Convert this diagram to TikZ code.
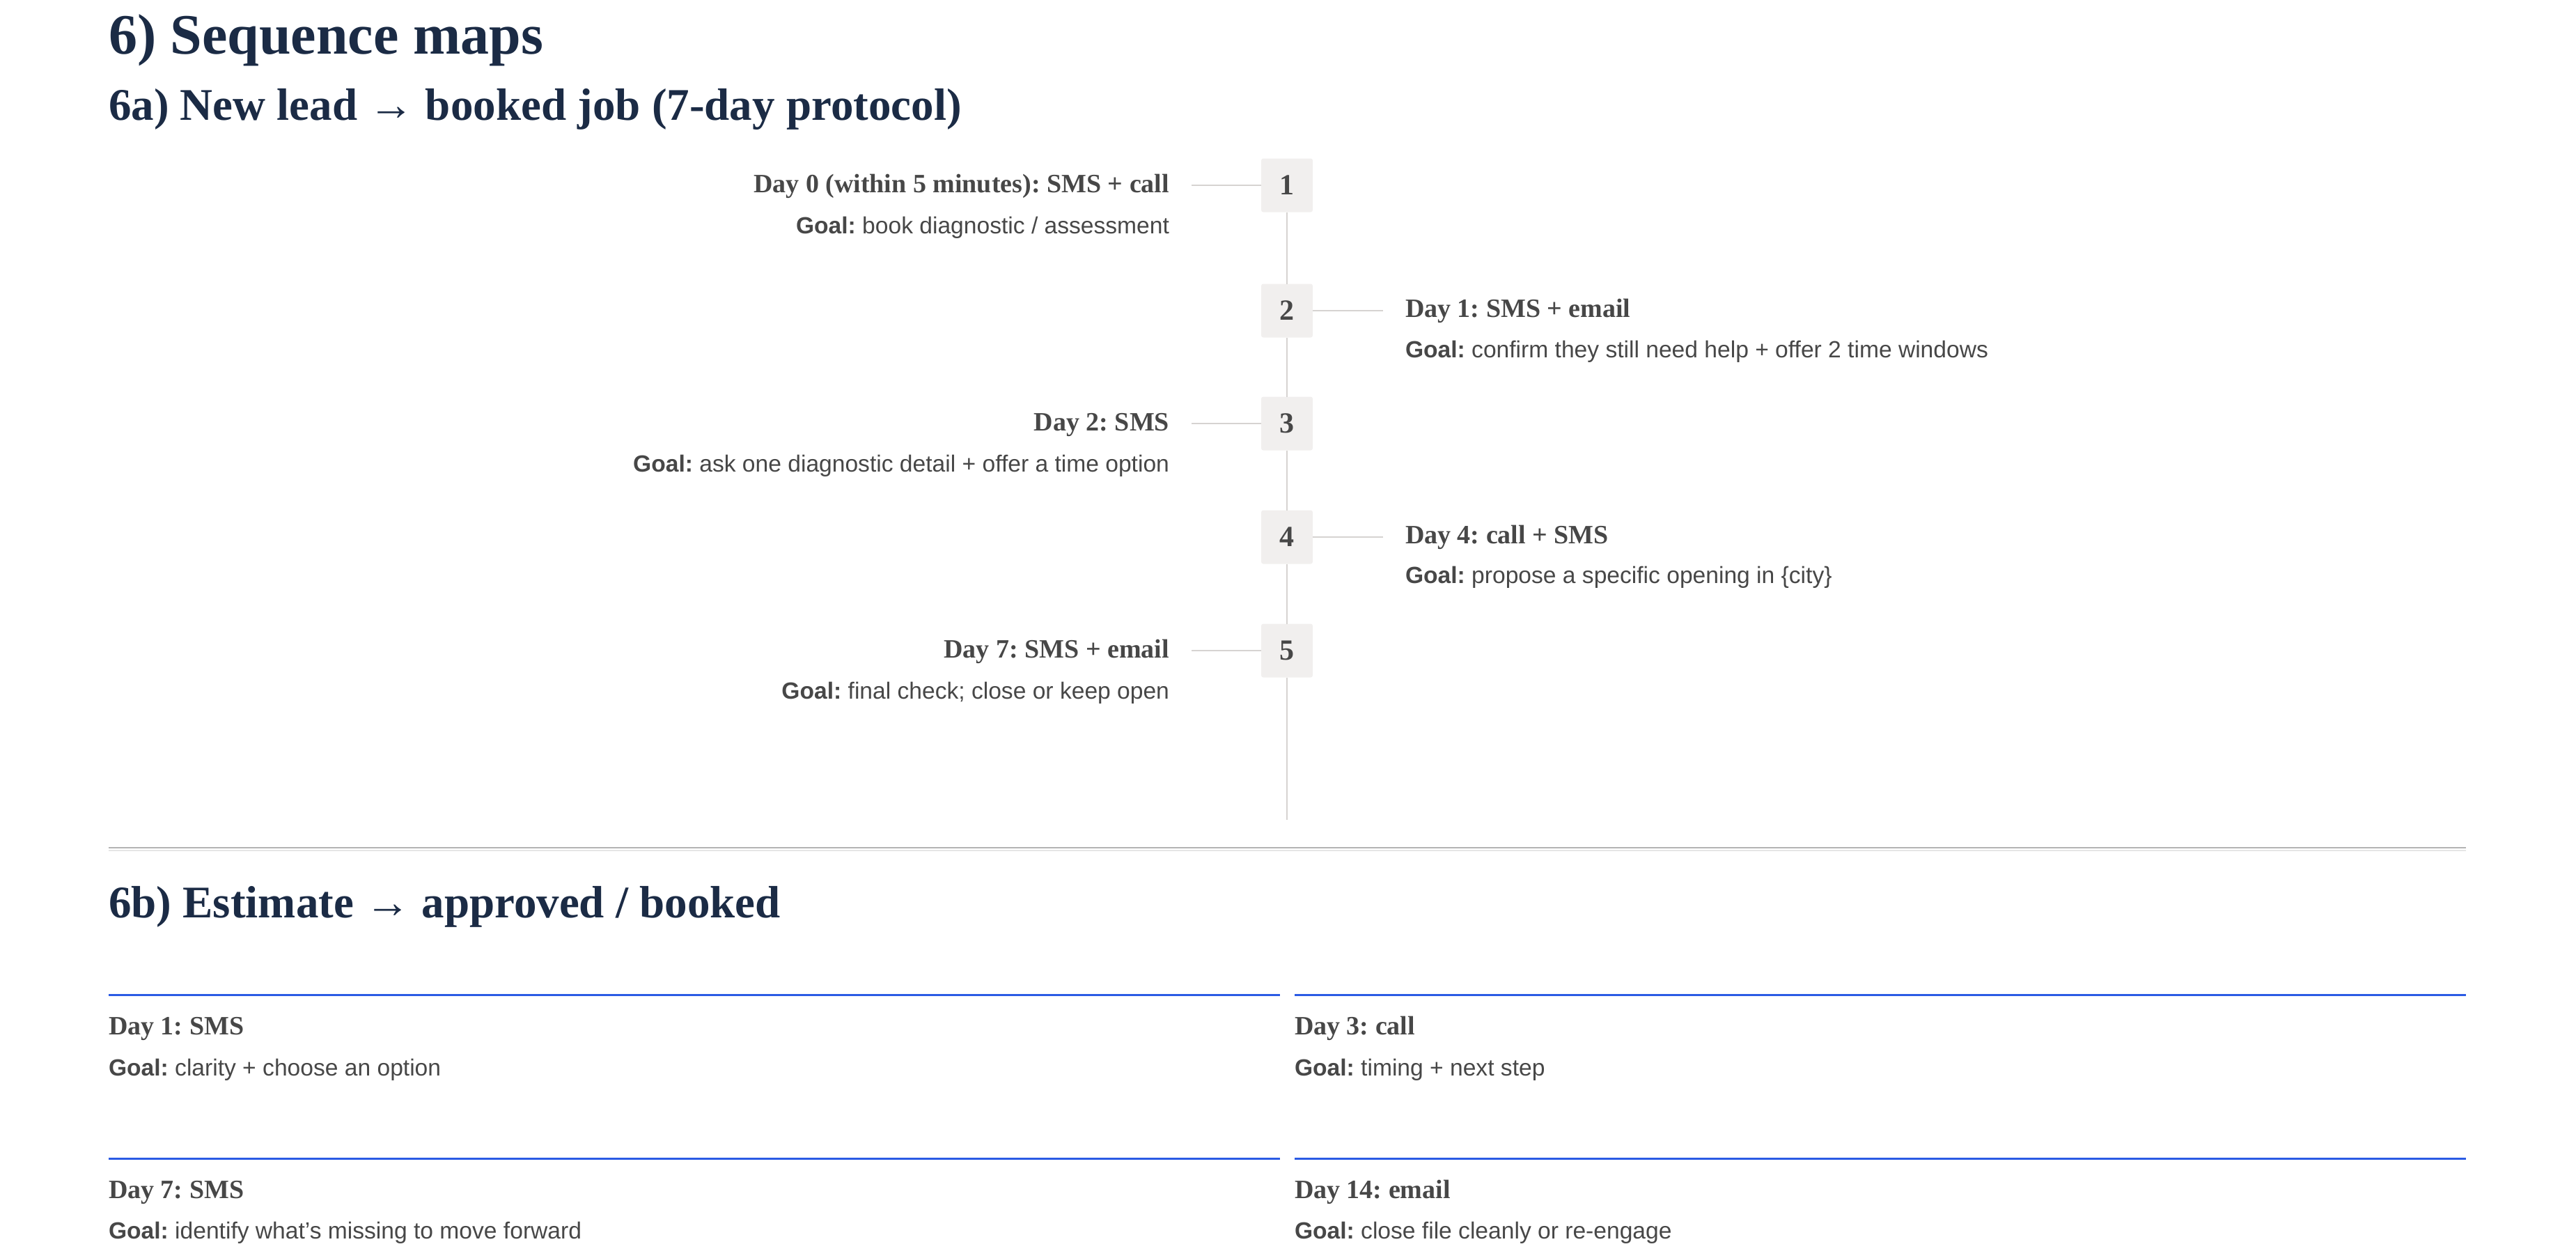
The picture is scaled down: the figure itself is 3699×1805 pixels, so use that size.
\documentclass[tikz,border=0pt]{standalone}
\usepackage{fontspec}
\setmainfont{Liberation Serif}
\setsansfont{Liberation Sans}
\usetikzlibrary{positioning}
\frenchspacing

\definecolor{ink}{HTML}{1B2B45}
\definecolor{txt}{HTML}{474747}
\definecolor{railgray}{HTML}{D6D3D1}
\definecolor{chip}{HTML}{F1EFEE}
\definecolor{accent}{HTML}{2B5BE4}
\definecolor{rulegray}{HTML}{B3B3B3}
\definecolor{rulelight}{HTML}{E6E6E6}

\newcommand{\goal}[1]{\textbf{Goal:} #1}

\begin{document}
\begin{tikzpicture}[x=0.5pt, y=-0.5pt,
  every node/.style = {inner sep = 0, outer sep = 0},
  head/.style = {anchor = base west, text = ink,
    font = \bfseries\fontsize{41}{48}\selectfont},
  subhead/.style = {anchor = base west, text = ink,
    font = \bfseries\fontsize{32.5}{40}\selectfont},
  chipbox/.style = {fill = chip, rounded corners = 1.5pt,
    minimum width = 37pt, minimum height = 38.5pt, text = txt,
    font = \bfseries\fontsize{21}{25}\selectfont},
  daytitle/.style = {text = txt, font = \bfseries\fontsize{19}{23}\selectfont},
  goaltext/.style = {text = txt, font = \sffamily\fontsize{16.8}{20}\selectfont},
  rail/.style = {draw = railgray, line width = 1.4pt},
  tick/.style = {draw = railgray, line width = 1.2pt, shorten > = 16pt},
  cardrule/.style = {draw = accent, line width = 1.5pt},
]
\useasboundingbox (0,0) rectangle (3699,1805);

% headings
\node[head] (title) at (156,77) {6) Sequence maps};
\node[subhead] (leadhead) at (156,172) {6a) New lead → booked job (7-day protocol)};

% timeline chips
\node[chipbox] (s1) at (1848,266) {1};
\node[chipbox] (s2) at (1848,446) {2};
\node[chipbox] (s3) at (1848,608) {3};
\node[chipbox] (s4) at (1848,771) {4};
\node[chipbox] (s5) at (1848,934) {5};
\coordinate (railend) at (1848,1177);
\draw[rail] (s1.south) -- (s2.north);
\draw[rail] (s2.south) -- (s3.north);
\draw[rail] (s3.south) -- (s4.north);
\draw[rail] (s4.south) -- (s5.north);
\draw[rail] (s5.south) -- (railend);

% left side
\node[daytitle, anchor = base east] (t1) at (1679,276) {Day 0 (within 5 minutes): SMS + call};
\node[goaltext, anchor = base east] (g1) at (1679,335) {\goal{book diagnostic / assessment}};
\node[daytitle, anchor = base east] (t3) at (1679,618) {Day 2: SMS};
\node[goaltext, anchor = base east] (g3) at (1679,677) {\goal{ask one diagnostic detail + offer a time option}};
\node[daytitle, anchor = base east] (t5) at (1679,944) {Day 7: SMS + email};
\node[goaltext, anchor = base east] (g5) at (1679,1003) {\goal{final check; close or keep open}};

% right side
\node[daytitle, anchor = base west] (t2) at (2018,455) {Day 1: SMS + email};
\node[goaltext, anchor = base west] (g2) at (2018,513) {\goal{confirm they still need help + offer 2 time windows}};
\node[daytitle, anchor = base west] (t4) at (2018,780) {Day 4: call + SMS};
\node[goaltext, anchor = base west] (g4) at (2018,837) {\goal{propose a specific opening in \{city\}}};

% ticks
\draw[tick] (s1.west) -- (s1.west -| t1.east);
\draw[tick] (s3.west) -- (s3.west -| t3.east);
\draw[tick] (s5.west) -- (s5.west -| t5.east);
\draw[tick] (s2.east) -- (s2.east -| t2.west);
\draw[tick] (s4.east) -- (s4.east -| t4.west);

% separator
\draw[rulegray, line width = 1.3pt] (156,1217) -- (3541,1217);
\draw[rulelight, line width = 1pt] (156,1221) -- (3541,1221);

% 6b cards
\node[subhead] (esthead) at (156,1317) {6b) Estimate → approved / booked};
\draw[cardrule] (156,1428) -- (1838,1428);
\draw[cardrule] (1859,1428) -- (3541,1428);
\draw[cardrule] (156,1663) -- (1838,1663);
\draw[cardrule] (1859,1663) -- (3541,1663);

\node[daytitle, anchor = base west] (c1) at (156,1485) {Day 1: SMS};
\node[goaltext, anchor = base west] (d1) at (156,1544) {\goal{clarity + choose an option}};
\node[daytitle, anchor = base west] (c2) at (1859,1485) {Day 3: call};
\node[goaltext, anchor = base west] (d2) at (1859,1544) {\goal{timing + next step}};
\node[daytitle, anchor = base west] (c3) at (156,1720) {Day 7: SMS};
\node[goaltext, anchor = base west] (d3) at (156,1778) {\goal{identify what's missing to move forward}};
\node[daytitle, anchor = base west] (c4) at (1859,1720) {Day 14: email};
\node[goaltext, anchor = base west] (d4) at (1859,1778) {\goal{close file cleanly or re-engage}};
\end{tikzpicture}
\end{document}
